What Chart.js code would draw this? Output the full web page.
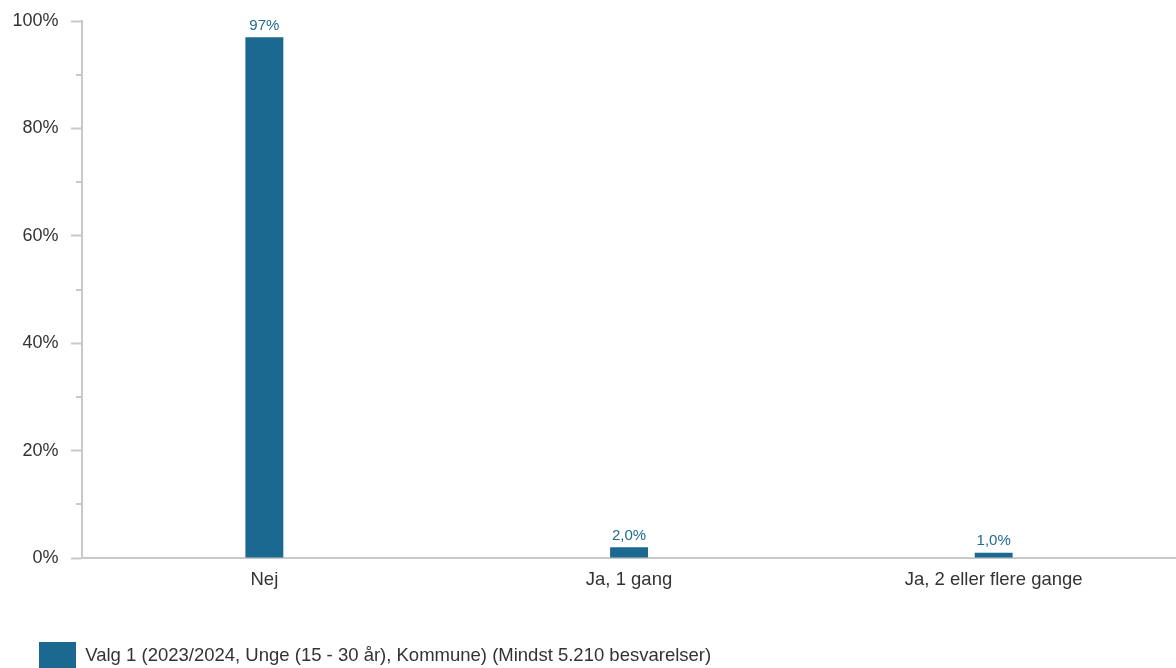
<!DOCTYPE html>
<html>
<head>
<meta charset="utf-8">
<script src="https://cdn.jsdelivr.net/npm/chart.js@4.4.0/dist/chart.umd.min.js"></script>
<style>
  html, body { margin: 0; padding: 0; background: #fff; overflow: hidden; }
  #wrap { width: 1176px; height: 668px; position: relative; }
  canvas { display: block; }
</style>
</head>
<body>
<div id="wrap"><canvas id="chart" width="1176" height="668"></canvas></div>
<script>
// Data
const categories = ['Nej', 'Ja, 1 gang', 'Ja, 2 eller flere gange'];
const values = [97, 2.0, 1.0];
const seriesName = 'Valg 1 (2023/2024, Unge (15 - 30 år), Kommune) (Mindst 5.210 besvarelser)';
const yTicks = [0, 20, 40, 60, 80, 100];

const barColor = '#1b6891';
const axisColor = '#c8c8c8';
const fontFamily = '"Liberation Sans", Arial, sans-serif';

function formatLabel(v) {
    if (v >= 10) return Math.round(v) + '%';
    return v.toFixed(1).replace('.', ',') + '%';
}

// labels above bars
const barLabels = {
    id: 'barLabels',
    afterDatasetsDraw(chart) {
        const ctx = chart.ctx;
        const meta = chart.getDatasetMeta(0);
        ctx.save();
        ctx.font = '15px ' + fontFamily;
        ctx.fillStyle = '#1f6b91';
        ctx.textAlign = 'center';
        ctx.textBaseline = 'bottom';
        meta.data.forEach((bar, i) => {
            ctx.fillText(formatLabel(values[i]), bar.x, bar.y - 4);
        });
        ctx.restore();
    }
};

// short minor ticks on y axis
const minorTicks = {
    id: 'minorTicks',
    afterDraw(chart) {
        const y = chart.scales.y;
        const ctx = chart.ctx;
        ctx.save();
        ctx.strokeStyle = axisColor;
        ctx.lineWidth = 2;
        for (let i = 0; i < yTicks.length - 1; i++) {
            const mid = (yTicks[i] + yTicks[i + 1]) / 2;
            const py = Math.round(y.getPixelForValue(mid));
            ctx.beginPath();
            ctx.moveTo(y.right - 6, py);
            ctx.lineTo(y.right, py);
            ctx.stroke();
        }
        ctx.restore();
    }
};

new Chart(document.getElementById('chart'), {
    type: 'bar',
    data: {
        labels: categories,
        datasets: [{
            label: seriesName,
            data: values,
            backgroundColor: barColor,
            borderWidth: 0,
            barPercentage: 0.104,
            categoryPercentage: 1
        }]
    },
    options: {
        responsive: false,
        animation: false,
        devicePixelRatio: 1,
        layout: { padding: { left: 0, right: 0, top: 11, bottom: -12 } },
        plugins: {
            legend: {
                position: 'bottom',
                align: 'start',
                labels: {
                    boxWidth: 37,
                    boxHeight: 28,
                    padding: 39,
                    color: '#333',
                    font: { size: 18.5, family: fontFamily }
                }
            },
            tooltip: { enabled: false }
        },
        scales: {
            x: {
                grid: { display: false },
                border: { color: axisColor, width: 2 },
                afterFit(scale) { scale.height = 45; },
                ticks: {
                    color: '#333',
                    padding: 3,
                    maxRotation: 0,
                    font: { size: 18.5, family: fontFamily }
                }
            },
            y: {
                min: 0,
                max: 100,
                afterBuildTicks(scale) {
                    scale.ticks = yTicks.map(v => ({ value: v }));
                },
                grid: {
                    drawOnChartArea: false,
                    color: axisColor,
                    tickLength: 11,
                    tickWidth: 2
                },
                border: { color: axisColor, width: 2 },
                ticks: {
                    color: '#333',
                    padding: 12.5,
                    callback: v => v + '%',
                    font: { size: 18, lineHeight: 0.95, family: fontFamily }
                }
            }
        }
    },
    plugins: [barLabels, minorTicks]
});
</script>
</body>
</html>
